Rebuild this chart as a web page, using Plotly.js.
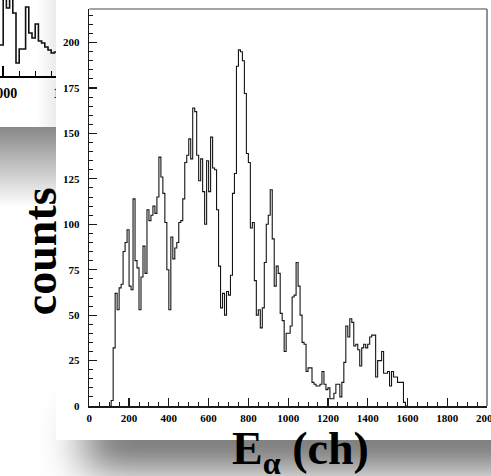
<!DOCTYPE html>
<html>
<head>
<meta charset="utf-8">
<script src="https://cdn.plot.ly/plotly-3.0.1.min.js"></script>
<style>
  html, body { margin: 0; padding: 0; background: #fff; }
  #stage { position: relative; width: 491px; height: 476px; overflow: hidden; background: #fff; }
  #stage > div { position: absolute; }
  #inset { left: 0; top: 0; width: 130px; height: 127px; }
  #insetShade { left: 36px; top: 0; width: 20px; height: 127px;
    background: linear-gradient(to right, rgba(0,0,0,0), rgba(0,0,0,0.08)); }
  #dropInset { left: 0; top: 127px; width: 56px; height: 80px;
    background: linear-gradient(to bottom, #878787, #ffffff); }
  #dropMain { left: 85px; top: 415px; width: 520px; height: 52px; background: #5f5f5f; filter: blur(22px); }
  #panel { left: 56px; top: 0; width: 435px; height: 440px; background: #fff; }
  #chart { left: 0; top: 0; width: 491px; height: 476px; }
</style>
</head>
<body>
<div id="stage">
  <div id="inset"></div>
  <div id="insetShade"></div>
  <div id="dropInset"></div>
  <div id="dropMain"></div>
  <div id="panel"></div>
  <div id="chart"></div>
</div>
<script>
// Alpha energy spectrum: counts per 10-channel bin, first bin starts at channel 100
const BIN_WIDTH = 10;
const FIRST_EDGE = 100;
const counts = [
  0, 3, 32, 62, 53, 65, 67, 85, 90, 97,
  66, 64, 114, 80, 76, 53, 71, 88, 73, 108,
  102, 105, 110, 106, 115, 137, 126, 117, 101, 75,
  53, 93, 81, 87, 90, 101, 102, 114, 134, 138,
  147, 136, 164, 162, 138, 124, 136, 118, 100, 135,
  118, 148, 131, 130, 108, 77, 54, 62, 50, 63,
  61, 72, 117, 128, 187, 196, 195, 190, 172, 139,
  134, 98, 101, 69, 50, 53, 43, 54, 79, 100,
  105, 119, 92, 66, 77, 73, 51, 47, 30, 40,
  40, 44, 60, 61, 79, 66, 50, 35, 34, 19,
  21, 21, 13, 12, 11, 11, 12, 19, 12, 9,
  10, 4, 4, 7, 12, 12, 5, 13, 24, 44,
  38, 48, 46, 33, 34, 31, 22, 32, 34, 32,
  34, 38, 39, 39, 16, 25, 25, 30, 18, 18,
  19, 11, 19, 16, 16, 13, 13, 13, 2, 0
];

// Neighbouring spectrum (only its corner shows beside the main frame)
const INSET_FIRST_EDGE = 990;
const insetCounts = [31, 90, 68, 90, 63, 13, 27, 27, 69, 43, 38, 52, 35, 33, 29, 26, 23, 24, 30, 28, 35];

const xTitle = 'E<sub>α</sub> (ch)';
const yTitle = 'counts';

function stepOutline(first, width, vals) {
  const xs = vals.map((_, i) => first + i * width);
  xs.push(first + vals.length * width);
  const ys = vals.slice();
  ys.push(vals[vals.length - 1]);
  return { xs, ys };
}

const SERIF = 'Liberation Serif, Times New Roman, serif';
const tickFont = { family: SERIF, size: 11, weight: 'bold', color: '#000' };

const main = stepOutline(FIRST_EDGE, BIN_WIDTH, counts);

Plotly.newPlot('chart', [{
  type: 'scatter', mode: 'lines', x: main.xs, y: main.ys,
  line: { shape: 'hv', color: '#141414', width: 1.1 }, hoverinfo: 'skip'
}], {
  width: 491, height: 476,
  margin: { l: 0, r: 0, t: 0, b: 0 },
  paper_bgcolor: 'rgba(0,0,0,0)', plot_bgcolor: 'rgba(0,0,0,0)',
  showlegend: false,
  xaxis: {
    domain: [89.3 / 491, 487 / 491], range: [0, 2000],
    showline: true, linecolor: '#1a1a1a', linewidth: 1.5,
    ticks: 'inside', tickmode: 'linear', tick0: 0, dtick: 200,
    ticklen: 8, tickwidth: 1.2, tickcolor: '#1a1a1a',
    minor: { dtick: 50, ticks: 'inside', ticklen: 4, tickwidth: 1, tickcolor: '#1a1a1a', showgrid: false },
    showgrid: false, zeroline: false, tickfont: tickFont, ticklabelstandoff: 1,
    ticklabeloverflow: 'allow'
  },
  yaxis: {
    domain: [70 / 476, 467 / 476], range: [0, 218.5],
    showline: true, linecolor: '#1a1a1a', linewidth: 1.5,
    ticks: 'inside', tickmode: 'linear', tick0: 0, dtick: 25,
    ticklen: 8, tickwidth: 1.2, tickcolor: '#1a1a1a',
    minor: { dtick: 5, ticks: 'inside', ticklen: 4, tickwidth: 1, tickcolor: '#1a1a1a', showgrid: false },
    showgrid: false, zeroline: false, tickfont: tickFont, ticklabelstandoff: 6,
    ticklabeloverflow: 'allow'
  },
  shapes: [
    { type: 'line', xref: 'x domain', yref: 'y domain', x0: 0, x1: 1, y0: 1, y1: 1,
      line: { color: '#858585', width: 1.6 } },
    { type: 'line', xref: 'x domain', yref: 'y domain', x0: 1, x1: 1, y0: 0, y1: 1,
      line: { color: '#858585', width: 1.8 } }
  ],
  annotations: [
    { text: yTitle, xref: 'paper', yref: 'paper', x: 40.5 / 491, y: (476 - 251.7) / 476,
      xanchor: 'center', yanchor: 'middle', textangle: -90, showarrow: false,
      font: { family: SERIF, size: 46, weight: 'bold', color: '#000' } },
    { text: xTitle, xref: 'paper', yref: 'paper', x: 300 / 491, y: (476 - 452) / 476,
      xanchor: 'center', yanchor: 'middle', showarrow: false,
      font: { family: SERIF, size: 46, weight: 'bold', color: '#000' } }
  ]
}, { staticPlot: true, displayModeBar: false });

const side = stepOutline(INSET_FIRST_EDGE, BIN_WIDTH, insetCounts);

Plotly.newPlot('inset', [{
  type: 'scatter', mode: 'lines', x: side.xs, y: side.ys,
  line: { shape: 'hv', color: '#111', width: 1.6 }, hoverinfo: 'skip'
}], {
  width: 130, height: 127,
  margin: { l: 0, r: 0, t: 0, b: 51 },
  paper_bgcolor: '#fff', plot_bgcolor: '#fff',
  showlegend: false,
  xaxis: {
    range: [990, 1396.25], showline: true, linecolor: '#000', linewidth: 1.8,
    ticks: 'inside', tickmode: 'linear', tick0: 0, dtick: 200,
    ticklen: 10, tickwidth: 1.5, tickcolor: '#000',
    minor: { dtick: 50, ticks: 'inside', ticklen: 5, tickwidth: 1.3, tickcolor: '#000', showgrid: false },
    showgrid: false, zeroline: false,
    tickfont: { family: SERIF, size: 14, weight: 'bold', color: '#000' }, ticklabelstandoff: 3,
    ticklabeloverflow: 'allow'
  },
  yaxis: { range: [0, 76], visible: false }
}, { staticPlot: true, displayModeBar: false });
</script>
</body>
</html>
